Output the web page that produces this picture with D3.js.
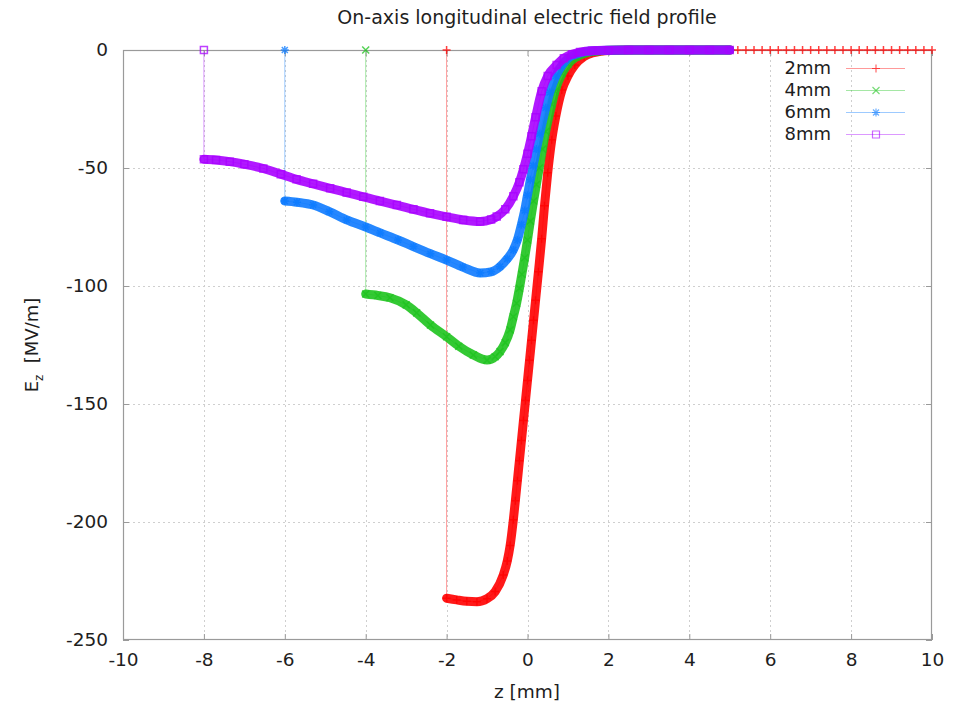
<!DOCTYPE html>
<html>
<head>
<meta charset="utf-8">
<script src="https://cdn.jsdelivr.net/npm/d3@7"></script>
<style>
  body { margin: 0; background: #fff; }
  svg { display: block; }
  text { font-family: "DejaVu Sans", sans-serif; fill: #1e1e1e; }
</style>
</head>
<body>
<svg id="chart" width="954" height="706"></svg>
<script>
// Cathode gap lengths shown in the legend
const seriesNames = ["2mm", "4mm", "6mm", "8mm"];

// On-axis Ez [MV/m] versus z [mm]; each profile starts at the cathode (Ez = 0 there)
const z2mm = [-2, -2, -1.75, -1.5, -1.25, -1.0, -0.8, -0.6, -0.5, -0.43, -0.35, -0.3, -0.25, -0.2, -0.15, -0.1, -0.05, 0, 0.05, 0.1, 0.15, 0.2, 0.27, 0.35, 0.42, 0.5, 0.6, 0.7, 0.85, 1.0, 1.17, 1.4, 1.6, 1.8, 2.0, 2.5, 3, 3.5, 4, 4.5, 5, 5.2, 5.4, 5.6, 5.8, 6.0, 6.2, 6.4, 6.6, 6.8, 7.0, 7.2, 7.4, 7.6, 7.8, 8.0, 8.2, 8.4, 8.6, 8.8, 9.0, 9.2, 9.4, 9.6, 9.8, 10];
const ez2mm = [0, -232.3, -233, -233.6, -233.8, -232.5, -229.5, -222.5, -216.5, -210, -199, -191, -182.5, -174, -165.5, -157, -148.5, -140, -131.5, -123, -114.5, -106, -94, -80, -66, -52, -38, -28, -17, -11, -6.4, -2.8, -1.3, -0.6, -0.2, 0, 0, 0, 0, 0, 0, 0, 0, 0, 0, 0, 0, 0, 0, 0, 0, 0, 0, 0, 0, 0, 0, 0, 0, 0, 0, 0, 0, 0, 0, 0];

const z4mm = [-4, -4, -3.7, -3.4, -3.0, -2.74, -2.4, -2.0, -1.7, -1.34, -1.0, -0.8, -0.68, -0.55, -0.43, -0.35, -0.27, -0.2, -0.14, -0.07, 0.0, 0.07, 0.15, 0.22, 0.29, 0.37, 0.45, 0.6, 0.68, 0.85, 1.0, 1.2, 1.4, 1.6, 1.8, 2.0, 2.5, 3, 3.5, 4, 4.5, 5];
const ez4mm = [0, -103.4, -104, -105, -108, -111.4, -116.5, -121.5, -125.5, -129.2, -131.4, -130, -127.8, -124, -118.6, -113, -107.3, -101, -95, -88, -80.5, -72.5, -64, -57, -50, -42, -34.5, -23, -17.5, -10, -6, -3, -1.5, -0.7, -0.3, -0.1, 0, 0, 0, 0, 0, 0];

const z6mm = [-6, -6, -5.7, -5.3, -4.9, -4.47, -4.0, -3.64, -3.2, -2.82, -2.4, -2.0, -1.6, -1.17, -0.9, -0.68, -0.5, -0.35, -0.25, -0.15, -0.07, 0.0, 0.07, 0.14, 0.22, 0.3, 0.45, 0.55, 0.7, 0.85, 1.0, 1.2, 1.4, 1.7, 2.0, 2.5, 3, 3.5, 4, 4.5, 5];
const ez6mm = [0, -64, -64.5, -65.7, -68.5, -72, -75, -77.5, -80.5, -83.3, -86.3, -89, -92, -94.5, -94, -91.8, -88.5, -84.7, -80.5, -74, -68, -61.5, -55, -49, -42, -35.5, -24.5, -18, -11, -6.5, -3.5, -1.8, -0.8, -0.3, -0.1, 0, 0, 0, 0, 0, 0];

const z8mm = [-8, -8, -7.7, -7.36, -7.0, -6.53, -6.1, -5.71, -5.3, -4.88, -4.47, -4.06, -3.65, -3.23, -2.82, -2.41, -2.0, -1.59, -1.17, -0.9, -0.76, -0.55, -0.35, -0.2, -0.1, 0.0, 0.1, 0.2, 0.35, 0.5, 0.72, 0.9, 1.1, 1.3, 1.6, 2.0, 2.5, 3, 3.5, 4, 4.5, 5];
const ez8mm = [0, -46.3, -46.6, -47.3, -48.4, -50.2, -52.6, -54.8, -56.7, -58.6, -60.4, -62.2, -64, -65.7, -67.5, -69.2, -70.7, -72, -72.7, -71.8, -70.6, -67.5, -62, -56, -50.5, -44, -36.5, -28.5, -17.5, -11, -6.4, -3.5, -1.8, -0.9, -0.3, -0.1, 0, 0, 0, 0, 0, 0];

const xTicks = [-10, -8, -6, -4, -2, 0, 2, 4, 6, 8, 10];
const yTicks = [0, -50, -100, -150, -200, -250];

const seriesColors = ["#ff0000", "#1ec31e", "#0a7aff", "#a800ff"];
const markerKinds = ["plus", "cross", "star", "square"];

const series = [
  { name: seriesNames[0], z: z2mm, ez: ez2mm },
  { name: seriesNames[1], z: z4mm, ez: ez4mm },
  { name: seriesNames[2], z: z6mm, ez: ez6mm },
  { name: seriesNames[3], z: z8mm, ez: ez8mm }
].map((s, i) => ({
  ...s,
  color: seriesColors[i],
  marker: markerKinds[i],
  points: s.z.map((z, j) => ({ z, ez: s.ez[j] }))
}));

const svg = d3.select("#chart");
const plot = { left: 123, right: 932, top: 50, bottom: 640 };

const x = d3.scaleLinear().domain([-10, 10]).range([plot.left, plot.right]);
const y = d3.scaleLinear().domain([-250, 0]).range([plot.bottom, plot.top]);

// Soft edge for the densely sampled bands
const defs = svg.append("defs");
defs.append("filter").attr("id", "soft").attr("x", "-5%").attr("y", "-5%").attr("width", "110%").attr("height", "110%")
  .append("feGaussianBlur").attr("stdDeviation", 0.6);

// Grid
const grid = svg.append("g").attr("stroke", "#cfcfcf").attr("stroke-width", 1).attr("stroke-dasharray", "2,3");
grid.selectAll("line.gx").data(xTicks.slice(1, -1)).join("line")
  .attr("x1", d => Math.round(x(d)) + 0.5).attr("x2", d => Math.round(x(d)) + 0.5)
  .attr("y1", plot.top).attr("y2", plot.bottom);
grid.selectAll("line.gy").data(yTicks.slice(1, -1)).join("line")
  .attr("y1", d => Math.round(y(d)) + 0.5).attr("y2", d => Math.round(y(d)) + 0.5)
  .attr("x1", plot.left).attr("x2", plot.right);

// Axes (ticks drawn inward, mirrored on the opposite sides)
const tickLen = 6;
const axisColor = "#9a9a9a";
const plainNumber = d => String(d);
function styleAxis(g) {
  g.select(".domain").remove();
  g.selectAll(".tick line").attr("stroke", axisColor);
  g.selectAll(".tick text").attr("font-size", 18.5).attr("fill", "#1e1e1e")
    .attr("font-family", "\"DejaVu Sans\", sans-serif");
}
svg.append("g").attr("transform", `translate(0,${plot.bottom})`)
  .call(d3.axisBottom(x).tickValues(xTicks).tickFormat(plainNumber).tickSizeInner(-tickLen).tickSizeOuter(0).tickPadding(13))
  .call(styleAxis);
svg.append("g").attr("transform", `translate(${plot.left},0)`)
  .call(d3.axisLeft(y).tickValues(yTicks).tickFormat(plainNumber).tickSizeInner(-tickLen).tickSizeOuter(0).tickPadding(15))
  .call(styleAxis);
svg.append("g").attr("transform", `translate(0,${plot.top})`)
  .call(d3.axisTop(x).tickValues(xTicks).tickSizeInner(-tickLen).tickSizeOuter(0).tickFormat(""))
  .call(styleAxis);
svg.append("g").attr("transform", `translate(${plot.right},0)`)
  .call(d3.axisRight(y).tickValues(yTicks).tickSizeInner(-tickLen).tickSizeOuter(0).tickFormat(""))
  .call(styleAxis);

// Frame
svg.append("rect")
  .attr("x", plot.left + 0.5).attr("y", plot.top + 0.5)
  .attr("width", plot.right - plot.left - 1).attr("height", plot.bottom - plot.top - 1)
  .attr("fill", "none").attr("stroke", axisColor).attr("stroke-width", 1.2);

// Marker shapes
const markerPath = {
  plus: "M-4,0H4M0,-4V4",
  cross: "M-3.5,-3.5L3.5,3.5M-3.5,3.5L3.5,-3.5",
  star: "M-4,0H4M0,-4V4M-3,-3L3,3M-3,3L3,-3",
  square: "M-3.5,-3.5H3.5V3.5H-3.5Z"
};

const thinLine = d3.line().x(d => x(d.z)).y(d => y(d.ez));
const bandLine = d3.line().x(d => x(d.z)).y(d => y(d.ez)).curve(d3.curveMonotoneX);

const curves = svg.append("g");
series.forEach(s => {
  const g = curves.append("g");
  // thin connecting line, including the drop at the cathode
  g.append("path").attr("d", thinLine(s.points))
    .attr("fill", "none").attr("stroke", s.color).attr("stroke-opacity", 0.4).attr("stroke-width", 1);
  // dense sampled profile rendered as a thick band
  const bandPts = s.points.slice(1).filter(p => p.z <= 5);
  g.append("path").attr("d", bandLine(bandPts))
    .attr("fill", "none").attr("stroke", s.color).attr("stroke-width", 9)
    .attr("stroke-linecap", "round").attr("stroke-linejoin", "round").attr("stroke-opacity", 0.9)
    .attr("filter", "url(#soft)");
  // point markers
  g.selectAll("path.pt").data(s.points).join("path")
    .attr("class", "pt")
    .attr("transform", d => `translate(${x(d.z)},${y(d.ez)})`)
    .attr("d", markerPath[s.marker])
    .attr("fill", "none").attr("stroke", s.color).attr("stroke-width", 1.5).attr("stroke-opacity", 0.75);
});

// Legend
const legend = svg.append("g");
series.forEach((s, i) => {
  const cy = 68 + i * 22;
  legend.append("text").attr("x", 831).attr("y", cy).attr("dy", "0.35em")
    .attr("text-anchor", "end").attr("font-size", 18).text(s.name);
  legend.append("line").attr("x1", 846).attr("x2", 905).attr("y1", cy + 0.5).attr("y2", cy + 0.5)
    .attr("stroke", s.color).attr("stroke-opacity", 0.4).attr("stroke-width", 1);
  legend.append("path").attr("transform", `translate(876,${cy + 0.5})`)
    .attr("d", markerPath[s.marker]).attr("fill", "none")
    .attr("stroke", s.color).attr("stroke-width", 1.2).attr("stroke-opacity", 0.6);
});

// Titles
svg.append("text").attr("x", 527).attr("y", 24).attr("text-anchor", "middle")
  .attr("font-size", 19).text("On-axis longitudinal electric field profile");
svg.append("text").attr("x", 527).attr("y", 698).attr("text-anchor", "middle")
  .attr("font-size", 18.5).text("z [mm]");
const yl = svg.append("text").attr("transform", "translate(38,345) rotate(-90)")
  .attr("text-anchor", "middle").attr("font-size", 18);
yl.append("tspan").text("E");
yl.append("tspan").attr("font-size", 12).attr("dy", 5).text("z");
yl.append("tspan").attr("dy", -5).attr("xml:space", "preserve").text("  [MV/m]");
</script>
</body>
</html>
